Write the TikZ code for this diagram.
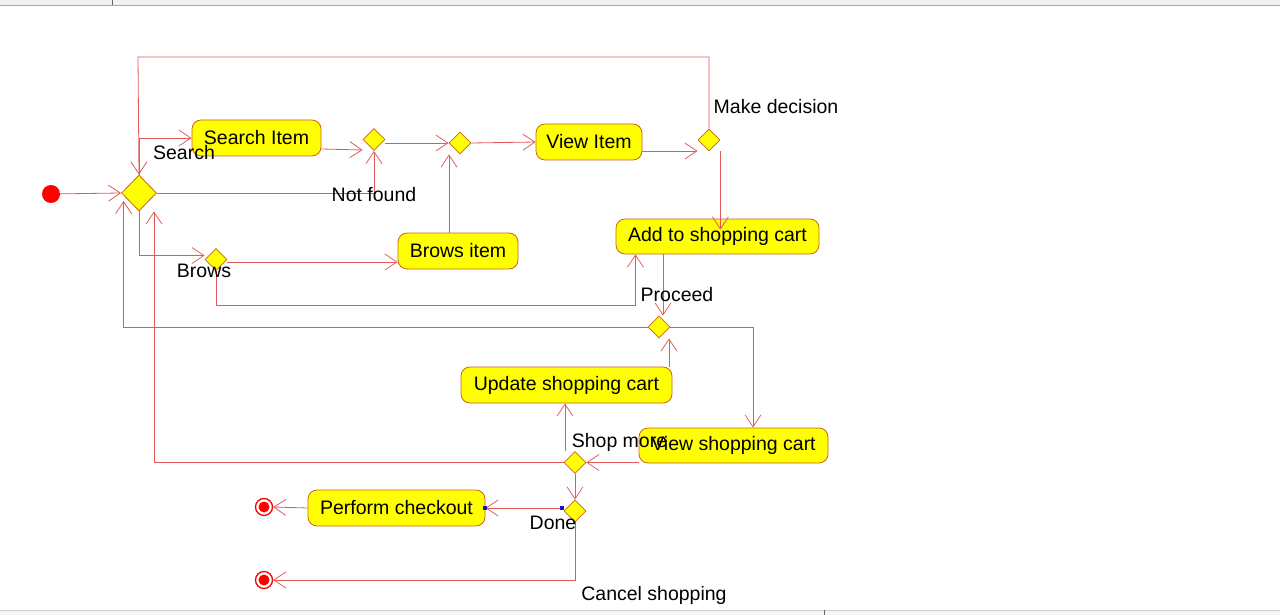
\documentclass[tikz,border=0pt]{standalone}
\usepackage{fontspec}
\setmainfont{Liberation Sans}
\usetikzlibrary{arrows.meta,shapes.geometric}
\definecolor{flowc}{RGB}{224,88,88}
\definecolor{boxline}{RGB}{200,100,30}
\definecolor{umlyellow}{RGB}{255,255,0}
\definecolor{dotblue}{RGB}{20,20,200}
\tikzset{
  every node/.style={font=\fontsize{19.5}{23}\selectfont},
  actbox/.style={rectangle, rounded corners=9pt, draw=boxline, fill=umlyellow, line width=0.8pt, minimum height=36pt, inner sep=0pt},
  decis/.style={diamond, draw=boxline, fill=umlyellow, line width=0.8pt, minimum width=22pt, minimum height=22pt, inner sep=0pt},
  flow/.style={draw=flowc, line width=0.8pt, -{Straight Barb[length=12pt,width=16pt]}},
  lbl/.style={inner sep=0pt, text=black},
  startnode/.style={circle, fill=red, minimum size=18pt, inner sep=0pt},
  endnode/.style={circle, draw=red, line width=1.3pt, fill=white, minimum size=17pt, inner sep=0pt},
  bluedot/.style={rectangle, fill=dotblue, minimum size=4pt, inner sep=0pt}
}
\begin{document}
\begin{tikzpicture}[x=1pt,y=-1pt]
\useasboundingbox (0,0) rectangle (1280,615);
% window chrome
\fill[gray!10] (0,0) rectangle (1280,5);
\draw[gray!70] (0,5.5) -- (1280,5.5);
\draw[gray!80!black] (112,0) -- (112,5);
\fill[gray!8] (0,610) rectangle (1280,615);
\draw[gray!40] (0,610) -- (1280,610);
\draw[gray!80!black] (824,610) -- (824,615);

% nodes
\node[startnode] (init) at (51,194) {};
\node[decis, minimum width=35pt, minimum height=36pt] (d0) at (139,193) {};
\node[actbox, minimum width=129pt] (sI) at (256.5,138) {Search Item};
\node[decis] (d1) at (374,139.5) {};
\node[decis] (d2) at (460,143) {};
\node[actbox, minimum width=106pt] (vI) at (589,142) {View Item};
\node[decis] (d3) at (709,140) {};
\node[actbox, minimum width=203pt, minimum height=35pt] (addC) at (717.5,236.5) {Add to shopping cart};
\node[decis] (d4) at (216,259.5) {};
\node[actbox, minimum width=120pt] (bI) at (458,251) {Brows item};
\node[decis] (d5) at (659,327) {};
\node[actbox, minimum width=211pt] (uC) at (566.5,385) {Update shopping cart};
\node[actbox, minimum width=189pt, minimum height=35pt] (vC) at (733.5,445.5) {View shopping cart};
\node[decis] (d6) at (575,462.5) {};
\node[decis] (d7) at (575,511) {};
\node[actbox, minimum width=177pt] (pC) at (396.5,508) {Perform checkout};
\node[endnode] (f1) at (264,507) {};
\fill[red] (f1) circle (5.5pt);
\node[endnode] (f2) at (264,580) {};
\fill[red] (f2) circle (5.5pt);

% connectors
\draw[flow] (init) -- (d0.west);
\draw[flow] (d3.north) |- (138,57) -- (d0.north);
\draw[flow] (d0.north) -- (d0.north |- sI.west) -- (sI.west);
\draw[flow] ([yshift=-11pt]sI.east) -- ([yshift=-10.5pt]d1.west);
\draw[flow] (d0.east) -| (d1.south);
\draw[flow] (d1.east |- d2.west) -- (d2.west);
\draw[flow] ([xshift=-9pt]bI.north) -- ([xshift=-11pt]d2.south);
\draw[flow] (d2.east) -- (vI.west);
\draw[flow] ([yshift=-9pt]vI.east) -- ([yshift=-11pt]d3.west);
\draw[flow] ([yshift=-11pt]d3.east) -- ([yshift=-11pt]d3.east |- addC.north);
\draw[flow] (d0.south) |- ([yshift=4pt]d4.west);
\draw[flow] ([yshift=-2.5pt]d4.east) -- ([yshift=-11pt]bI.west);
\draw[flow] (d4.south) -- ++(0,34.5) -| ([xshift=-82pt]addC.south);
\draw[flow] ([xshift=-54.5pt]addC.south) -- ([xshift=-54.5pt]addC.south |- d5.north);
\draw[flow] (d5.west) -| ([xshift=2.5pt,yshift=-8pt]d0.west);
\draw[flow] (d5.east) -| ([xshift=19.5pt]vC.north);
\draw[flow] ([xshift=102.5pt]uC.north) -- ([xshift=102.5pt]uC.north |- d5.south);
\draw[flow] ([yshift=-17pt]vC.west) -- (d6.east);
\draw[flow] ([xshift=-10pt]d6.north) -- ([xshift=-10pt]d6.north |- uC.south);
\draw[flow] (d6.west) -| ([xshift=15pt]d0.south);
\draw[flow] (d6.south) -- (d7.north);
\draw[flow] ([yshift=3pt]d7.west) -- (pC.east);
\draw[flow] (pC.west) -- (f1.east);
\draw[flow] (d7.south) |- (f2.east);
\node[bluedot] (bd1) at ([yshift=3pt,xshift=-1.5pt]d7.west) {};
\node[bluedot] (bd2) at (pC.east) {};

% labels
\node[lbl] (lSearch) at (184,153) {Search};
\node[lbl] (lNot) at (374,195) {Not found};
\node[lbl] (lMake) at (776,107) {Make decision};
\node[lbl] (lBrows) at (204,271) {Brows};
\node[lbl] (lProc) at (677,295) {Proceed};
\node[lbl] (lShop) at (619.5,442) {Shop more};
\node[lbl] (lDone) at (553,523) {Done};
\node[lbl] (lCancel) at (654,595) {Cancel shopping};
\end{tikzpicture}
\end{document}
